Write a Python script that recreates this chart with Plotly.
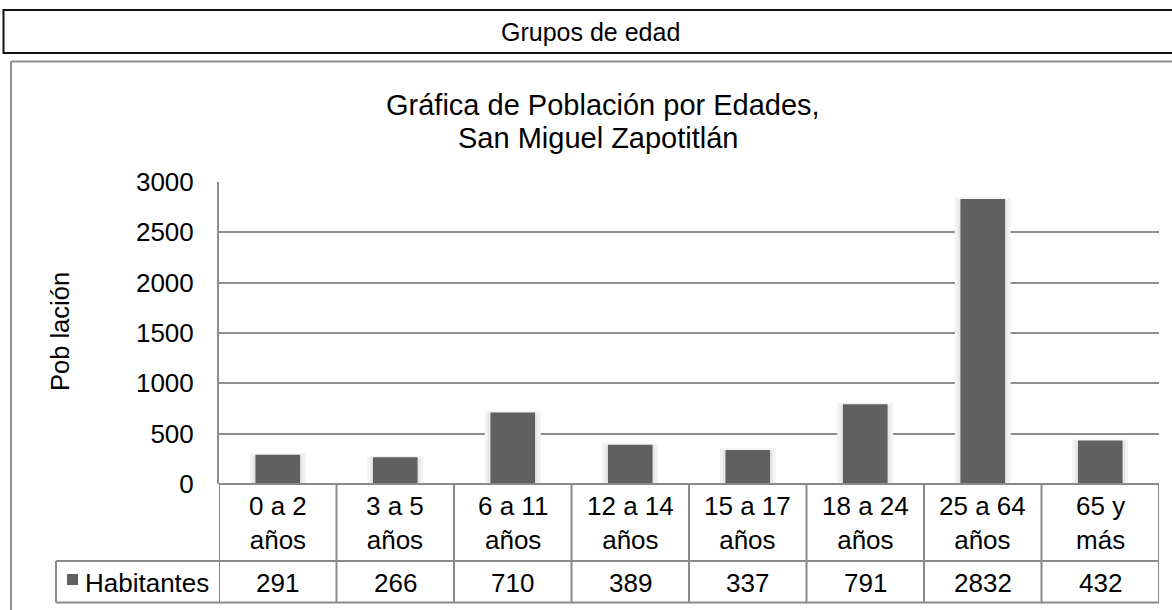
import plotly.graph_objects as go

# ---- data ----
categories = ["0 a 2<br>años", "3 a 5<br>años", "6 a 11<br>años", "12 a 14<br>años",
              "15 a 17<br>años", "18 a 24<br>años", "25 a 64<br>años", "65 y<br>más"]
habitantes = [291, 266, 710, 389, 337, 791, 2832, 432]
series_name = "Habitantes"
y_ticks = [0, 500, 1000, 1500, 2000, 2500, 3000]
header_text = "Grupos de edad"
title_line1 = "Gráfica de Población por Edades,"
title_line2 = "San Miguel Zapotitlán"
y_title = "Pob lación"

# ---- layout geometry (pixels) ----
FIG_W, FIG_H = 1172, 610
L, R, T, B = 219, 1159, 182, 484
PW, PH = R - L, B - T
FONT = "Liberation Sans, Arial, sans-serif"
BAR_COLOR = "#606060"
GRID = "#8e8e8e"
TXT = 26


def px(x):
    return (x - L) / PW


def py(y):
    return (B - y) / PH


idx = list(range(len(categories)))

fig = go.Figure()
# soft shadow behind each bar
fig.add_trace(go.Bar(x=idx, y=habitantes, width=0.45, marker=dict(color="#e6e6e6",
                     line=dict(color="#f2f2f2", width=3)), hoverinfo="skip", showlegend=False))
fig.add_trace(go.Bar(x=idx, y=habitantes, width=0.38, name=series_name,
                     marker=dict(color=BAR_COLOR, line=dict(width=0)), showlegend=False))

shapes = []
# header box
shapes.append(dict(type="rect", xref="paper", yref="paper", x0=px(3.5), x1=px(1180),
                   y0=py(10), y1=py(53), line=dict(color="#111111", width=2)))
# chart area border (top and left)
shapes.append(dict(type="line", xref="paper", yref="paper", x0=px(11), x1=px(1180),
                   y0=py(61.5), y1=py(61.5), line=dict(color=GRID, width=2)))
shapes.append(dict(type="line", xref="paper", yref="paper", x0=px(11), x1=px(11),
                   y0=py(61.5), y1=py(620), line=dict(color=GRID, width=2)))

TL = "#8a8a8a"
row_mid, row_bot = 561, 602.5
# table horizontal lines
shapes.append(dict(type="line", xref="x", yref="paper", x0=-0.5, x1=len(idx) - 0.5,
                   y0=py(B), y1=py(B), line=dict(color=TL, width=2)))
for yy in (row_mid, row_bot):
    shapes.append(dict(type="line", xref="paper", yref="paper", x0=px(56), x1=px(R),
                       y0=py(yy), y1=py(yy), line=dict(color=TL, width=2)))
# table vertical lines
for i in range(len(idx) + 1):
    shapes.append(dict(type="line", xref="x", yref="paper", x0=i - 0.5, x1=i - 0.5,
                       y0=py(B), y1=py(row_bot), line=dict(color=TL, width=2)))
shapes.append(dict(type="line", xref="paper", yref="paper", x0=px(56), x1=px(56),
                   y0=py(row_mid), y1=py(row_bot), line=dict(color=TL, width=2)))
# legend key square
shapes.append(dict(type="rect", xref="paper", yref="paper", x0=px(67), x1=px(78),
                   y0=py(574), y1=py(585), fillcolor=BAR_COLOR, line=dict(width=0)))

annotations = []
annotations.append(dict(text=header_text, xref="paper", yref="paper", x=px(590), y=py(32),
                        xanchor="center", yanchor="middle", showarrow=False,
                        font=dict(family=FONT, size=25, color="#000000")))
annotations.append(dict(text=title_line1, xref="paper", yref="paper", x=px(603), y=py(105),
                        xanchor="center", yanchor="middle", showarrow=False,
                        font=dict(family=FONT, size=29, color="#000000")))
annotations.append(dict(text=title_line2, xref="paper", yref="paper", x=px(598), y=py(138),
                        xanchor="center", yanchor="middle", showarrow=False,
                        font=dict(family=FONT, size=29, color="#000000")))
annotations.append(dict(text=y_title, xref="paper", yref="paper", x=px(60), y=py(332),
                        xanchor="center", yanchor="middle", textangle=-90, showarrow=False,
                        font=dict(family=FONT, size=25.5, color="#000000")))
for i, (c, v) in enumerate(zip(categories, habitantes)):
    annotations.append(dict(text=c, xref="x", yref="paper", x=i, y=py(523),
                            xanchor="center", yanchor="middle", showarrow=False,
                            font=dict(family=FONT, size=TXT, color="#000000")))
    annotations.append(dict(text=str(v), xref="x", yref="paper", x=i, y=py(583),
                            xanchor="center", yanchor="middle", showarrow=False,
                            font=dict(family=FONT, size=TXT, color="#000000")))
annotations.append(dict(text=series_name, xref="paper", yref="paper", x=px(83), y=py(583),
                        xanchor="left", yanchor="middle", showarrow=False,
                        font=dict(family=FONT, size=TXT, color="#000000")))

fig.update_layout(
    width=FIG_W, height=FIG_H,
    margin=dict(l=L, r=FIG_W - R, t=T, b=FIG_H - B, pad=0),
    paper_bgcolor="white", plot_bgcolor="white",
    barmode="overlay", showlegend=False,
    shapes=shapes, annotations=annotations,
    xaxis=dict(range=[-0.5, len(idx) - 0.5], showticklabels=False, showgrid=False,
               zeroline=False, showline=False, ticks="", fixedrange=True),
    yaxis=dict(range=[0, 3000], tickvals=y_ticks, ticktext=[str(t) for t in y_ticks],
               showgrid=True, gridcolor=GRID, gridwidth=1.5, zeroline=False,
               showline=True, linecolor=GRID, linewidth=2, ticks="outside", ticklen=18,
               tickcolor="rgba(0,0,0,0)", tickfont=dict(family=FONT, size=TXT, color="#000000"),
               fixedrange=True),
)

fig.write_html("out.html", config={"displayModeBar": False},
               post_script="document.body.style.margin='0px';")
